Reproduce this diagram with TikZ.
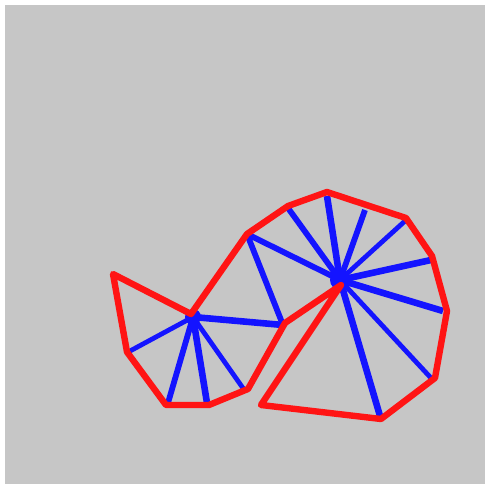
\documentclass[tikz,border=0pt]{standalone}
\definecolor{bg}{RGB}{198,198,198}
\definecolor{rd}{RGB}{255,20,20}
\definecolor{bl}{RGB}{20,20,255}
\tikzset{
  redline/.style={draw=rd,line width=6.4pt,line join=round,line cap=round},
  bluewide/.style={draw=bl,line width=6.6pt},
  bluemid/.style={draw=bl,line width=5.8pt},
  bluethin/.style={draw=bl,line width=4.8pt}
}
\begin{document}
\begin{tikzpicture}[x=1pt,y=-1pt]
\useasboundingbox (0,0) rectangle (485,484);
\fill[white] (0,0) rectangle (485,484);
\fill[bg] (5,5) rectangle (485,484);
% outline points
\coordinate (a) at (113,274);
\coordinate (b) at (191,314);
\coordinate (c) at (247,234);
\coordinate (d) at (288,206);
\coordinate (e) at (327,192);
\coordinate (f) at (406,218);
\coordinate (g) at (432,256);
\coordinate (h) at (447,311);
\coordinate (i) at (435,378);
\coordinate (j) at (381,419);
\coordinate (k) at (261,405);
\coordinate (l) at (341,285);
\coordinate (m) at (285,323);
\coordinate (n) at (248,389);
\coordinate (o) at (209,405);
\coordinate (p) at (166,405);
\coordinate (q) at (127,352);
% hubs and spoke ends
\coordinate (hubA) at (193,317);
\coordinate (hubB) at (340,280);
\coordinate (s1) at (130,351);
\coordinate (s2) at (168,403);
\coordinate (s3) at (207,403);
\coordinate (s4) at (245,391);
\coordinate (s5) at (283,325);
\coordinate (t1) at (288,208);
\coordinate (t2) at (327,196);
\coordinate (t3) at (365,210);
\coordinate (t4) at (405,221);
\coordinate (t5) at (431,260);
\coordinate (t6) at (443,311);
\coordinate (t7) at (431,378);
\coordinate (t8) at (380,416);
% blue spokes
\draw[bluethin] (hubA) -- (s1);
\draw[bluemid] (hubA) -- (s2);
\draw[bluewide] (hubA) -- (s3);
\draw[bluethin] (hubA) -- (s4);
\draw[bluewide] (hubA) -- (s5);
\draw[bluemid] (c) -- (s5);
\draw[bluemid] (c) -- (hubB);
\draw[bluemid] (hubB) -- (t1);
\draw[bluewide] (hubB) -- (t2);
\draw[bluemid] (hubB) -- (t3);
\draw[bluethin] (hubB) -- (t4);
\draw[bluewide] (hubB) -- (t5);
\draw[bluewide] (hubB) -- (t6);
\draw[bluethin] (hubB) -- (t7);
\draw[bluewide] (hubB) -- (t8);
\fill[bl] (hubA) circle (8pt);
\fill[bl] (hubB) circle (10pt);
% red outline
\draw[redline] (a) -- (b) -- (c) -- (d) -- (e) -- (f) -- (g) -- (h) -- (i) -- (j) -- (k) -- (l) -- (m) -- (n) -- (o) -- (p) -- (q) -- cycle;
\end{tikzpicture}
\end{document}
